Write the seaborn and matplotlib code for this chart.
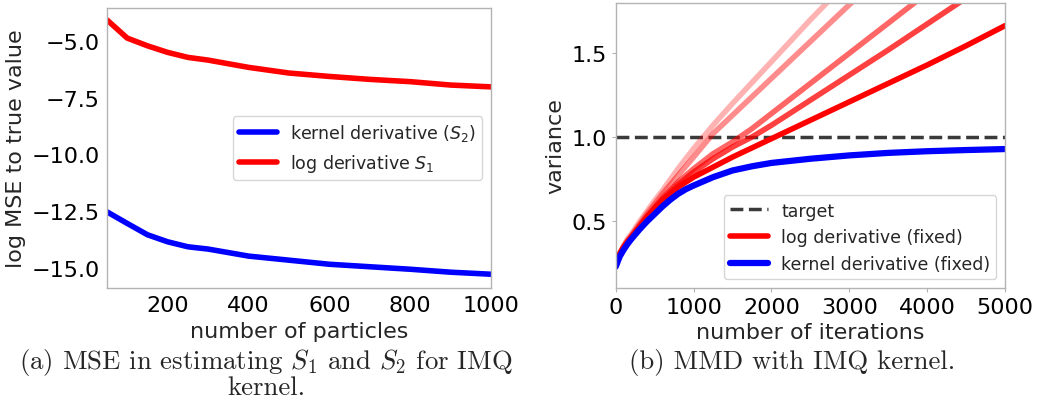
import matplotlib
matplotlib.use("Agg")
import matplotlib.pyplot as plt
import seaborn as sns

# (a) MSE vs number of particles
particles = [50, 100, 150, 200, 250, 300, 400, 500, 600, 700, 800, 900, 1000]
mse_log_deriv = [-4.08, -4.88, -5.22, -5.51, -5.73, -5.85, -6.17, -6.42, -6.57, -6.70, -6.80, -6.95, -7.03]
mse_kernel_deriv = [-12.54, -13.05, -13.55, -13.86, -14.08, -14.18, -14.49, -14.67, -14.85, -14.96, -15.07, -15.20, -15.29]

# (b) variance vs number of iterations
iter_kernel = [0, 50, 100, 150, 200, 300, 400, 500, 600, 700, 800, 900, 1000, 1250, 1500, 1750, 2000,
               2500, 3000, 3500, 4000, 4500, 5000]
var_kernel = [0.225, 0.285, 0.325, 0.36, 0.39, 0.445, 0.495, 0.54, 0.585, 0.625, 0.66, 0.688, 0.71,
              0.76, 0.80, 0.825, 0.845, 0.87, 0.89, 0.905, 0.915, 0.922, 0.928]

iter_log = [0, 50, 100, 150, 200, 300, 400, 500, 600, 800, 1000, 1250, 1500, 1750, 2000,
            2500, 3000, 3500, 4000, 4500, 5000]
# log derivative runs, lightest first
var_log_runs = [
    [0.25, 0.305, 0.35, 0.39, 0.42, 0.49, 0.555, 0.62, 0.68, 0.81, 0.93, 1.07, 1.20, 1.325, 1.45,
     1.70, 1.94, 2.17, 2.40, 2.60, 2.80],
    [0.25, 0.30, 0.345, 0.38, 0.41, 0.475, 0.54, 0.60, 0.66, 0.77, 0.88, 1.02, 1.13, 1.24, 1.35,
     1.57, 1.79, 2.00, 2.20, 2.40, 2.60],
    [0.25, 0.30, 0.34, 0.375, 0.405, 0.465, 0.525, 0.58, 0.635, 0.73, 0.81, 0.90, 0.97, 1.05, 1.14,
     1.32, 1.50, 1.68, 1.86, 2.04, 2.22],
    [0.25, 0.30, 0.34, 0.372, 0.40, 0.46, 0.52, 0.575, 0.625, 0.715, 0.79, 0.87, 0.94, 1.00, 1.07,
     1.22, 1.37, 1.52, 1.675, 1.83, 1.98],
    [0.25, 0.30, 0.34, 0.37, 0.40, 0.46, 0.52, 0.57, 0.62, 0.70, 0.76, 0.82, 0.88, 0.935, 0.99,
     1.10, 1.21, 1.32, 1.43, 1.545, 1.665],
]
run_alphas = [0.3, 0.45, 0.6, 0.75, 1.0]
target = 1.0


def main():
    sns.set_style("ticks", {"axes.edgecolor": ".7", "xtick.color": ".7", "ytick.color": ".7"})
    plt.rcParams["font.family"] = ["DejaVu Sans"]

    fig = plt.figure(figsize=(10.39, 4.06), dpi=100)
    ax1 = fig.add_axes([0.103, 0.288, 0.3696, 0.690])
    ax2 = fig.add_axes([0.5926, 0.289, 0.3747, 0.701])

    leg_kw = dict(fontsize=12.5, handlelength=2.2, borderpad=0.35, handletextpad=0.75)

    # left panel
    sns.lineplot(x=particles, y=mse_kernel_deriv, ax=ax1, color="#0000ff", lw=4,
                 label="kernel derivative ($S_2$)")
    sns.lineplot(x=particles, y=mse_log_deriv, ax=ax1, color="#ff0000", lw=4,
                 label="log derivative $S_1$")
    ax1.set_xlim(50, 1000)
    ax1.set_ylim(-15.9, -3.55)
    ax1.set_xticks([200, 400, 600, 800, 1000])
    ax1.set_yticks([-15.0, -12.5, -10.0, -7.5, -5.0])
    ax1.tick_params(length=0, labelsize=16, labelcolor="black", pad=5)
    ax1.set_xlabel("number of particles", fontsize=16)
    ax1.set_ylabel("log MSE to true value", fontsize=16)
    ax1.legend(loc="center right", **leg_kw)

    # right panel
    ax2.axhline(target, color="#3a3a3a", lw=2.5, ls="--", label="target")
    for run, a in zip(var_log_runs, run_alphas):
        sns.lineplot(x=iter_log, y=run, ax=ax2, color="#ff0000", alpha=a, lw=4,
                     label="log derivative (fixed)" if a == 1.0 else None)
    sns.lineplot(x=iter_kernel, y=var_kernel, ax=ax2, color="#0000ff", lw=4.5,
                 label="kernel derivative (fixed)")
    ax2.set_xlim(0, 5000)
    ax2.set_ylim(0.1, 1.8)
    ax2.set_xticks([0, 1000, 2000, 3000, 4000, 5000])
    ax2.set_yticks([0.5, 1.0, 1.5])
    ax2.tick_params(length=3, labelsize=16, labelcolor="black")
    ax2.set_xlabel("number of iterations", fontsize=16)
    ax2.set_ylabel("variance", fontsize=16)
    ax2.legend(loc="lower right", **leg_kw)

    for ax in (ax1, ax2):
        for s in ax.spines.values():
            s.set_visible(True)
            s.set_linewidth(1)

    cap = dict(family="cmr10", math_fontfamily="cm", fontsize=19.3, ha="center", va="center")
    fig.text(0.256, 0.106, "(a) MSE in estimating $S_1$ and $S_2$ for IMQ", **cap)
    fig.text(0.256, 0.044, "kernel.", **cap)
    fig.text(0.762, 0.106, "(b) MMD with IMQ kernel.", **cap)

    fig.savefig("out.png", dpi=100)
    plt.close(fig)


if __name__ == "__main__":
    main()
